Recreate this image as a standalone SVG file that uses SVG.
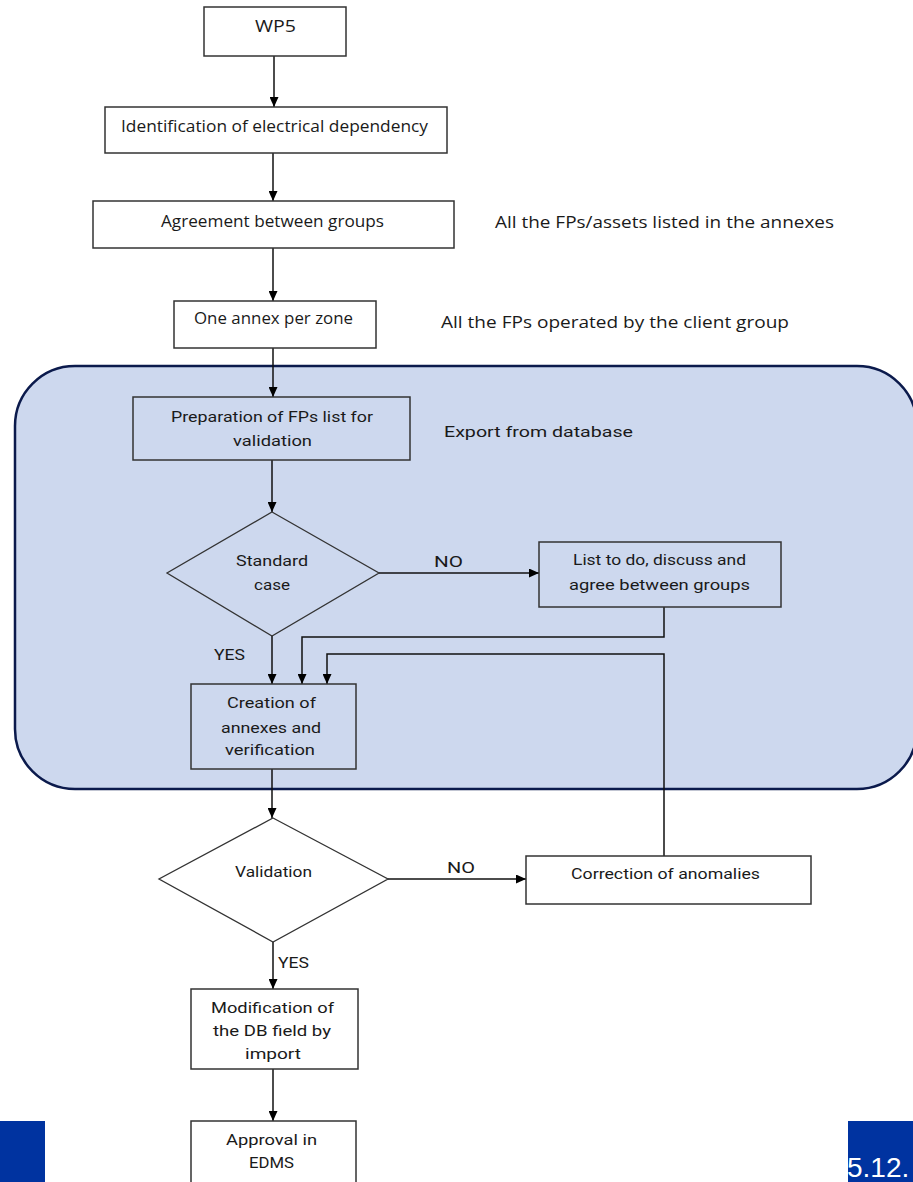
<svg xmlns="http://www.w3.org/2000/svg" width="913" height="1182" viewBox="0 0 913 1182">
  <style>
    .box { fill: #ffffff; stroke: #333333; stroke-width: 1.5; }
    .dia { fill: #ffffff; stroke: #333333; stroke-width: 1.3; }
    .dia-in { fill: #cdd8ee; stroke: #333333; stroke-width: 1.3; }
    .box-in { fill: #cdd8ee; stroke: #333333; stroke-width: 1.5; }
    .wide { font-family: "Open Sans", "Noto Sans", sans-serif; font-size: 15.5px; fill: #1a1a1a; }
    .narrow { font-family: Roboto, "Liberation Sans", sans-serif; font-size: 15px; fill: #1a1a1a; }
    .link { fill: none; stroke: #111111; stroke-width: 1.5; marker-end: url(#arrow); }
    .band { fill: #0033a0; }
  </style>
  <defs>
    <marker id="arrow" markerUnits="userSpaceOnUse" markerWidth="10" markerHeight="9" refX="10" refY="4.5" orient="auto">
      <path d="M0,0 L10,4.5 L0,9 z" fill="#000000"/>
    </marker>
  </defs>

  <rect width="913" height="1182" fill="#ffffff"/>

  <!-- shaded zone grouping the preparation / creation steps -->
  <rect id="zone" x="15" y="366" width="902" height="423" rx="60" ry="60" fill="#cdd8ee" stroke="#0b1a4c" stroke-width="2.5"/>

  <!-- side notes -->
  <text class="wide" x="495" y="228" textLength="339" lengthAdjust="spacingAndGlyphs">All the FPs/assets listed in the annexes</text>
  <text class="wide" x="441" y="328" textLength="348" lengthAdjust="spacingAndGlyphs">All the FPs operated by the client group</text>
  <text class="narrow" x="444" y="437" textLength="189" lengthAdjust="spacingAndGlyphs" font-size="16">Export from database</text>

  <!-- connectors -->
  <g id="connectors">
    <path class="link" d="M274,56 V107"/>
    <path class="link" d="M273,153 V201"/>
    <path class="link" d="M273,248 V301"/>
    <path class="link" d="M273,348 V397"/>
    <path class="link" d="M272,460 V512"/>
    <path class="link" d="M379,573 H539"/>
    <path class="link" d="M272,636 V684"/>
    <path class="link" d="M664,607 V637 H302 V684"/>
    <path class="link" d="M664,856 V654 H327 V684"/>
    <path class="link" d="M272,769 V818"/>
    <path class="link" d="M388,879 H526"/>
    <path class="link" d="M273,942 V989"/>
    <path class="link" d="M273,1069 V1121"/>
    <text class="narrow" x="434" y="567" textLength="29" lengthAdjust="spacingAndGlyphs">NO</text>
    <text class="narrow" x="214" y="660" textLength="31" lengthAdjust="spacingAndGlyphs">YES</text>
    <text class="narrow" x="447" y="873" textLength="28" lengthAdjust="spacingAndGlyphs">NO</text>
    <text class="narrow" x="278" y="968" textLength="31" lengthAdjust="spacingAndGlyphs">YES</text>
  </g>

  <g id="wp5">
    <rect class="box" x="204" y="7" width="142" height="49"/>
    <text class="wide" x="255" y="32" textLength="41" lengthAdjust="spacingAndGlyphs" font-size="16.5">WP5</text>
  </g>

  <g id="identification">
    <rect class="box" x="105" y="107" width="342" height="46"/>
    <text class="wide" x="121" y="132" textLength="307" lengthAdjust="spacingAndGlyphs">Identification of electrical dependency</text>
  </g>

  <g id="agreement">
    <rect class="box" x="93" y="201" width="361" height="47"/>
    <text class="wide" x="161" y="227" textLength="223" lengthAdjust="spacingAndGlyphs">Agreement between groups</text>
  </g>

  <g id="one-annex">
    <rect class="box" x="174" y="301" width="202" height="47"/>
    <text class="wide" x="194" y="324" textLength="159" lengthAdjust="spacingAndGlyphs">One annex per zone</text>
  </g>

  <g id="preparation">
    <rect class="box-in" x="133" y="397" width="277" height="63"/>
    <text class="narrow" x="171" y="422" textLength="202" lengthAdjust="spacingAndGlyphs">Preparation of FPs list for</text>
    <text class="narrow" x="233" y="446" textLength="79" lengthAdjust="spacingAndGlyphs">validation</text>
  </g>

  <g id="standard-case">
    <polygon class="dia-in" points="272,512 379,573 272,636 167,573"/>
    <text class="narrow" x="236" y="566" textLength="72" lengthAdjust="spacingAndGlyphs">Standard</text>
    <text class="narrow" x="254" y="590" textLength="36" lengthAdjust="spacingAndGlyphs">case</text>
  </g>

  <g id="list-to-do">
    <rect class="box-in" x="539" y="542" width="242" height="65"/>
    <text class="narrow" x="573" y="565" textLength="173" lengthAdjust="spacingAndGlyphs">List to do, discuss and</text>
    <text class="narrow" x="569" y="590" textLength="181" lengthAdjust="spacingAndGlyphs">agree between groups</text>
  </g>

  <g id="creation">
    <rect class="box-in" x="191" y="684" width="165" height="85"/>
    <text class="narrow" x="227" y="708" textLength="89" lengthAdjust="spacingAndGlyphs">Creation of</text>
    <text class="narrow" x="221" y="733" textLength="100" lengthAdjust="spacingAndGlyphs">annexes and</text>
    <text class="narrow" x="225" y="755" textLength="90" lengthAdjust="spacingAndGlyphs">verification</text>
  </g>

  <g id="validation">
    <polygon class="dia" points="273,818 388,879 273,942 159,879"/>
    <text class="narrow" x="235" y="877" textLength="77" lengthAdjust="spacingAndGlyphs">Validation</text>
  </g>

  <g id="correction">
    <rect class="box" x="526" y="856" width="285" height="48"/>
    <text class="narrow" x="571" y="879" textLength="189" lengthAdjust="spacingAndGlyphs">Correction of anomalies</text>
  </g>

  <g id="modification">
    <rect class="box" x="191" y="989" width="167" height="80"/>
    <text class="narrow" x="211" y="1013" textLength="123" lengthAdjust="spacingAndGlyphs">Modification of</text>
    <text class="narrow" x="213" y="1036" textLength="118" lengthAdjust="spacingAndGlyphs">the DB field by</text>
    <text class="narrow" x="245" y="1059" textLength="56" lengthAdjust="spacingAndGlyphs">import</text>
  </g>

  <g id="approval">
    <rect class="box" x="191" y="1121" width="165" height="80"/>
    <text class="narrow" x="226" y="1145" textLength="91" lengthAdjust="spacingAndGlyphs">Approval in</text>
    <text class="narrow" x="249" y="1168" textLength="45" lengthAdjust="spacingAndGlyphs">EDMS</text>
  </g>

  <!-- slide footer bands -->
  <rect class="band" x="0" y="1121" width="45" height="61"/>
  <rect class="band" x="848" y="1121" width="65" height="61"/>
  <text x="847" y="1177" font-family="'Liberation Sans', Arial, sans-serif" font-size="28" fill="#ffffff">5.12.</text>
</svg>
